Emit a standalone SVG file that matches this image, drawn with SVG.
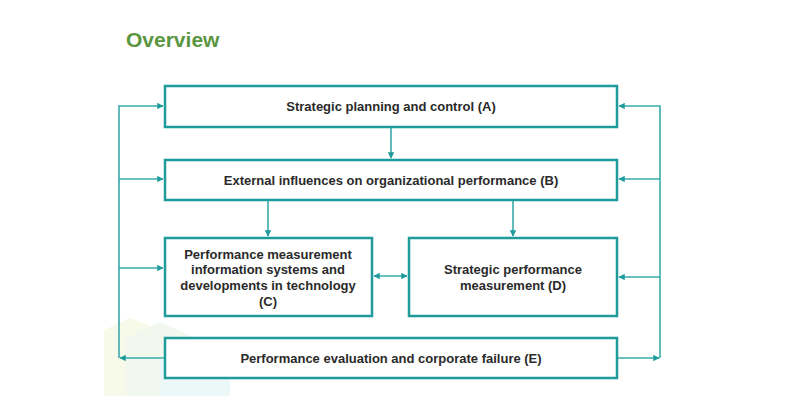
<svg xmlns="http://www.w3.org/2000/svg" width="801" height="409" viewBox="0 0 801 409">
<style>
.box{fill:#fff;stroke:#1f9b9c;stroke-width:2.5}
.lbl{font-family:"Liberation Sans",Arial,sans-serif;font-weight:bold;font-size:13px;fill:#2a2a2a;text-anchor:middle}
.ln{fill:none;stroke:#3aabad;stroke-width:1.6}
.title{font-family:"Liberation Sans",Arial,sans-serif;font-weight:bold;font-size:21px;fill:#5a9640}
</style>
<defs>
<marker id="ah" viewBox="0 0 10 10" refX="9" refY="5" markerWidth="4" markerHeight="4" orient="auto-start-reverse" markerUnits="strokeWidth">
<path d="M0,0 L10,5 L0,10 z" fill="#1f9b9c"/>
</marker>
</defs>
<rect width="801" height="409" fill="#fff"/>
<g id="bg" opacity="0.55">
<polygon points="104,330 130,318 160,330 160,396 104,396" fill="#f3f6d8"/>
<polygon points="125,338 160,322 195,338 195,396 125,396" fill="#e9f4e0"/>
<polygon points="160,360 198,346 230,360 230,396 160,396" fill="#def3f1"/>
</g>
<text class="title" x="126" y="47">Overview</text>
<g id="connectors">
<polyline class="ln" points="119,358 119,106 163,106" marker-end="url(#ah)"/>
<line class="ln" x1="165" y1="358" x2="120" y2="358" marker-end="url(#ah)"/>
<line class="ln" x1="119" y1="179" x2="163" y2="179" marker-end="url(#ah)"/>
<line class="ln" x1="119" y1="268" x2="163" y2="268" marker-end="url(#ah)"/>
<polyline class="ln" points="660,358 660,106 619,106" marker-end="url(#ah)"/>
<line class="ln" x1="617" y1="358" x2="659" y2="358" marker-end="url(#ah)"/>
<line class="ln" x1="660" y1="179" x2="619" y2="179" marker-end="url(#ah)"/>
<line class="ln" x1="660" y1="277" x2="619" y2="277" marker-end="url(#ah)"/>
<line class="ln" x1="391" y1="127" x2="391" y2="158" marker-end="url(#ah)"/>
<line class="ln" x1="268" y1="200" x2="268" y2="236" marker-end="url(#ah)"/>
<line class="ln" x1="513" y1="200" x2="513" y2="236" marker-end="url(#ah)"/>
<line class="ln" x1="374" y1="276" x2="407" y2="276" marker-end="url(#ah)" marker-start="url(#ah)"/>
</g>
<g id="A">
<rect class="box" x="165" y="86" width="452" height="41"/>
<text class="lbl" x="391" y="111">Strategic planning and control (A)</text>
</g>
<g id="B">
<rect class="box" x="165" y="160" width="452" height="40"/>
<text class="lbl" x="391" y="184.5">External influences on organizational performance (B)</text>
</g>
<g id="C">
<rect class="box" x="165" y="238" width="207" height="78"/>
<text class="lbl" x="268" y="258.5">Performance measurement</text>
<text class="lbl" x="268" y="274">information systems and</text>
<text class="lbl" x="268" y="289.5">developments in technology</text>
<text class="lbl" x="268" y="306">(C)</text>
</g>
<g id="D">
<rect class="box" x="409" y="238" width="208" height="78"/>
<text class="lbl" x="513" y="273.5">Strategic performance</text>
<text class="lbl" x="513" y="289.5">measurement (D)</text>
</g>
<g id="E">
<rect class="box" x="165" y="338" width="452" height="40"/>
<text class="lbl" x="391" y="362.5">Performance evaluation and corporate failure (E)</text>
</g>
</svg>
